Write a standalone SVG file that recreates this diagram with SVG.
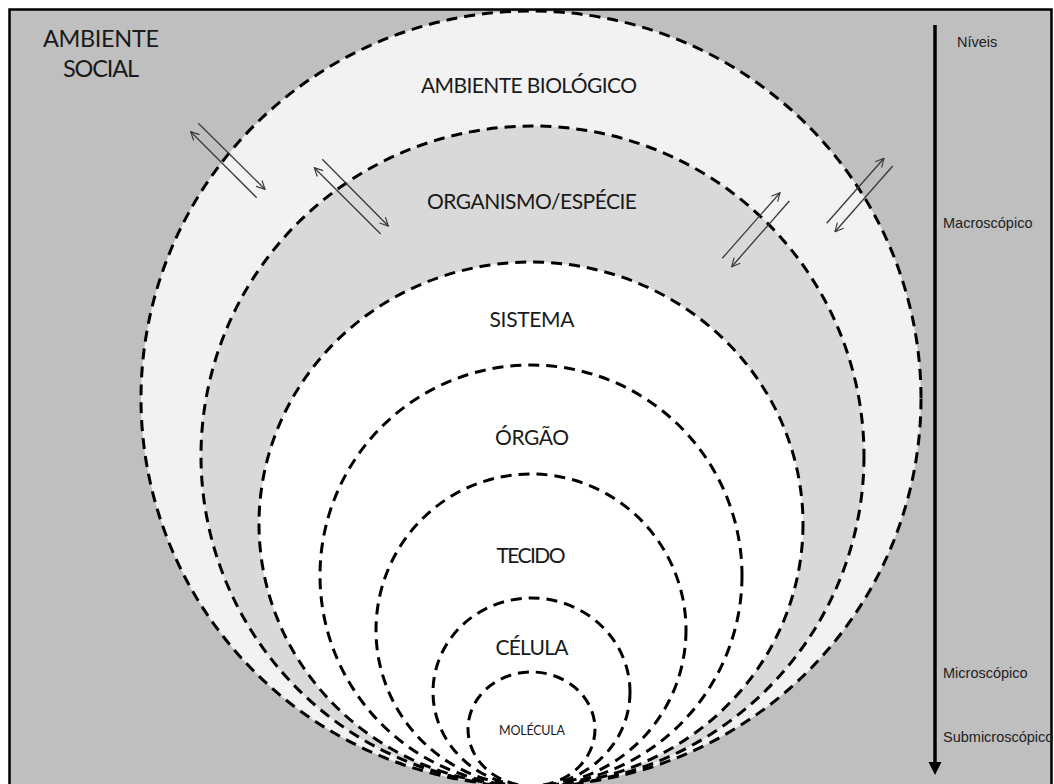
<svg xmlns="http://www.w3.org/2000/svg" width="1054" height="784" viewBox="0 0 1054 784">
  <style>
    .ring { stroke: #000; stroke-width: 3; stroke-dasharray: 11 7; }
    .lvl { font-family: Lato, "Open Sans", sans-serif; font-size: 21px; fill: #1a1a1a; text-anchor: middle; }
    .big { font-size: 23.5px; }
    .scale { font-family: "Liberation Sans", Arial, sans-serif; font-size: 14.5px; fill: #222; }
    .flow { stroke: #3a3a3a; stroke-width: 1.3; fill: none; marker-end: url(#open); }
  </style>
  <defs>
    <marker id="open" viewBox="0 0 12 12" refX="11" refY="6" markerWidth="10" markerHeight="10" markerUnits="userSpaceOnUse" orient="auto">
      <path d="M1,1 L11,6 L1,11" fill="none" stroke="#3a3a3a" stroke-width="1.4"/>
    </marker>
  </defs>

  <!-- page and frame -->
  <rect x="0" y="0" width="1054" height="784" fill="#fff"/>
  <rect id="ambiente-social" x="9.5" y="9.5" width="1042" height="800" fill="#bfbfbf" stroke="#000" stroke-width="2.5"/>
  <g id="label-social">
    <text class="lvl big" x="101" y="47" textLength="116">AMBIENTE</text>
    <text class="lvl big" x="101" y="77" textLength="76">SOCIAL</text>
  </g>

  <!-- nested levels, all resting on the bottom edge -->
  <g id="ambiente-biologico">
    <ellipse class="ring" cx="531" cy="398.5" rx="390" ry="387.5" fill="#f2f2f2"/>
    <text class="lvl" x="529" y="93" textLength="216">AMBIENTE BIOLÓGICO</text>
  </g>
  <g id="organismo">
    <ellipse class="ring" cx="532.5" cy="456" rx="331.5" ry="330" fill="#d9d9d9"/>
    <text class="lvl" x="532" y="209" textLength="210">ORGANISMO/ESPÉCIE</text>
  </g>
  <g id="sistema">
    <ellipse class="ring" cx="531" cy="524" rx="272" ry="262" fill="#fff"/>
    <text class="lvl" x="532" y="327" textLength="85">SISTEMA</text>
  </g>
  <g id="orgao">
    <ellipse class="ring" cx="531" cy="575.5" rx="211" ry="210.5" fill="#fff"/>
    <text class="lvl" x="532" y="445" textLength="74">ÓRGÃO</text>
  </g>
  <g id="tecido">
    <ellipse class="ring" cx="531" cy="630" rx="155" ry="156" fill="#fff"/>
    <text class="lvl" x="531" y="563" textLength="69">TECIDO</text>
  </g>
  <g id="celula">
    <ellipse class="ring" cx="531.5" cy="692" rx="98.5" ry="94" fill="#fff"/>
    <text class="lvl" x="532" y="655" textLength="73">CÉLULA</text>
  </g>
  <g id="molecula">
    <ellipse class="ring" cx="531.5" cy="729" rx="63.5" ry="57" fill="#fff"/>
    <text class="lvl" x="532" y="735" style="font-size:12.5px" textLength="66">MOLÉCULA</text>
  </g>

  <!-- exchanges across the boundaries -->
  <g id="connectors">
    <line class="flow" x1="256.7" y1="197.7" x2="190.7" y2="131.7"/>
    <line class="flow" x1="198.3" y1="123.3" x2="265" y2="189.3"/>
    <line class="flow" x1="380.7" y1="234" x2="314.3" y2="167.7"/>
    <line class="flow" x1="322.3" y1="159.3" x2="388.3" y2="226"/>
    <line class="flow" x1="722.3" y1="258.3" x2="780" y2="192.7"/>
    <line class="flow" x1="789.3" y1="201" x2="731.7" y2="266.7"/>
    <line class="flow" x1="826.7" y1="223.3" x2="884" y2="158.3"/>
    <line class="flow" x1="892.7" y1="166" x2="835" y2="231.7"/>
  </g>

  <!-- scale of levels -->
  <g id="niveis">
    <line x1="935" y1="25" x2="935" y2="764" stroke="#000" stroke-width="3.5"/>
    <polygon points="928.5,762 941.5,762 935,775" fill="#000"/>
    <text class="scale" x="957" y="47">Níveis</text>
    <text class="scale" x="943" y="228">Macroscópico</text>
    <text class="scale" x="943" y="678">Microscópico</text>
    <text class="scale" x="943" y="742">Submicroscópico</text>
  </g>
</svg>
